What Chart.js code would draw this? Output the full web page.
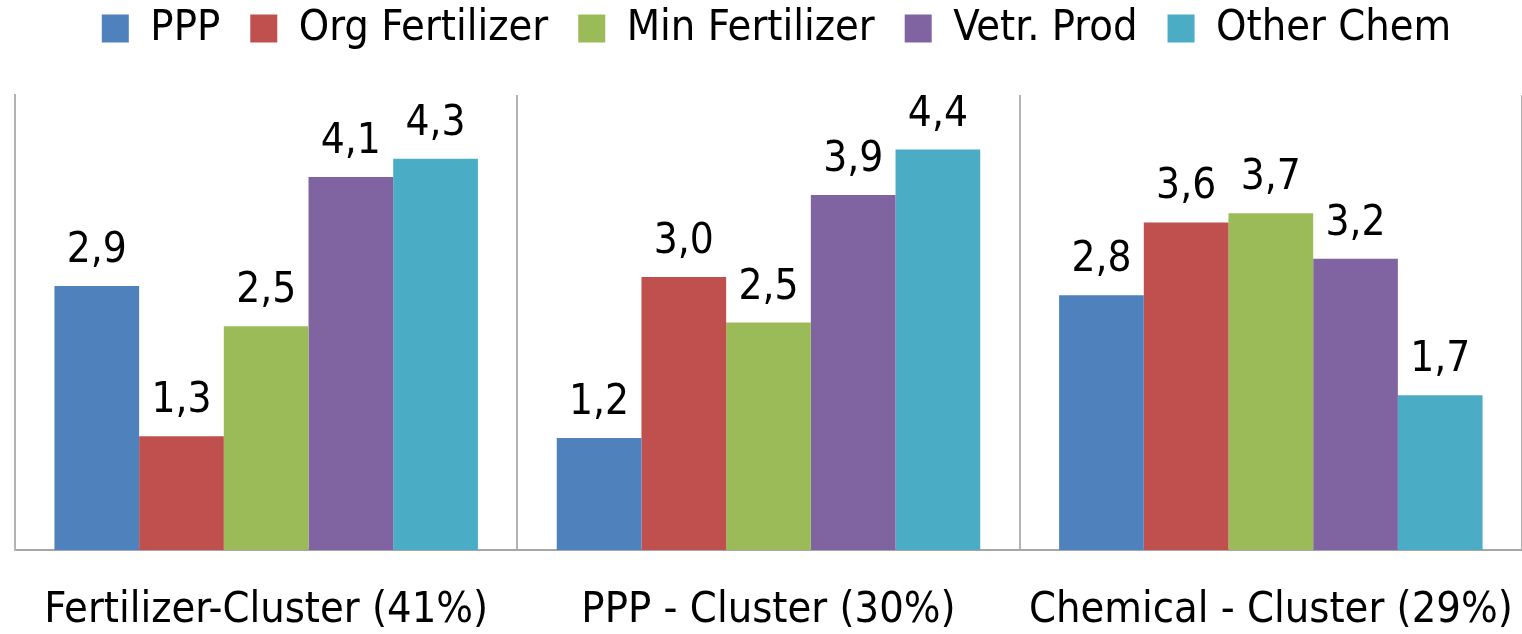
<!DOCTYPE html>
<html>
<head>
<meta charset="utf-8">
<script src="https://cdn.jsdelivr.net/npm/chart.js@4"></script>
<style>
  html, body { margin: 0; padding: 0; background: #fff; }
  #wrap { width: 1522px; height: 634px; }
</style>
</head>
<body>
<div id="wrap"><canvas id="chart"></canvas></div>
<script>
// categories (x axis)
let clusters = ["Fertilizer-Cluster (41%)", "PPP - Cluster (30%)", "Chemical - Cluster (29%)"]

// series values, one per cluster
let ppp = [2.9, 1.23, 2.8]
let orgFert = [1.25, 3.0, 3.6]
let minFert = [2.46, 2.5, 3.7]
let vetrProd = [4.1, 3.9, 3.2]
let otherChem = [4.3, 4.4, 1.7]

let FONT = "'Liberation Sans Narrow', 'DejaVu Sans Condensed', 'Open Sans', sans-serif"

//draws the value above every bar, comma as decimal mark
const valueLabels = {
	id: 'valueLabels',
	afterDatasetsDraw(chart) {
		const ctx = chart.ctx
		ctx.save()
		ctx.fillStyle = '#000'
		ctx.font = '42px ' + FONT
		ctx.textAlign = 'center'
		ctx.textBaseline = 'alphabetic'
		chart.data.datasets.forEach((ds, i) => {
			chart.getDatasetMeta(i).data.forEach((bar, j) => {
				let txt = ds.data[j].toFixed(1).replace('.', ',')
				ctx.fillText(txt, bar.x, bar.y - 24)
			})
		})
		ctx.restore()
	}
}

//extra room under the legend, and nudge it a little to the right
const legendMargin = {
	id: 'legendMargin',
	beforeInit(chart) {
		const fit = chart.legend.fit
		chart.legend.fit = function () {
			fit.bind(chart.legend)()
			this.height = 118
		}
	},
	afterLayout(chart) {
		chart.legend.left += 12
		chart.legend.right += 12
	}
}

new Chart("chart", {
	type: "bar",
	data: {
		labels: clusters,
		datasets: [
			{ label: "PPP", data: ppp, backgroundColor: '#4F81BD' },
			{ label: "Org Fertilizer", data: orgFert, backgroundColor: '#C0504D' },
			{ label: "Min Fertilizer", data: minFert, backgroundColor: '#9BBB59' },
			{ label: "Vetr. Prod", data: vetrProd, backgroundColor: '#8064A2' },
			{ label: "Other Chem", data: otherChem, backgroundColor: '#4BACC6' }
		]
	},
	options: {
		responsive: true,
		maintainAspectRatio: false,
		animation: false,
		datasets: {
			bar: { categoryPercentage: 0.843, barPercentage: 1.0 }
		},
		layout: { padding: { left: 7, right: 0, top: -23, bottom: 0 } },
		plugins: {
			legend: {
				display: true,
				position: 'top',
				labels: {
					boxWidth: 27,
					boxHeight: 28,
					padding: 30,
					color: '#000',
					font: { size: 43, family: FONT }
				}
			},
			tooltip: { enabled: false }
		},
		scales: {
			x: {
				grid: { display: true, offset: true, color: '#b3b3b3', lineWidth: 2, drawTicks: false },
				border: { display: true, color: '#a6a6a6', width: 2 },
				ticks: { color: '#000', padding: 35, maxRotation: 0, autoSkip: false, font: { size: 43, family: FONT } },
				afterFit(scale) {
					scale.height = 84
					scale.paddingLeft = 0
					scale.paddingRight = 0
				}
			},
			y: {
				min: 0,
				max: 5,
				grid: { display: false },
				border: { display: true, color: '#b3b3b3', width: 2 },
				ticks: { display: false }
			}
		}
	},
	plugins: [valueLabels, legendMargin]
});
</script>
</body>
</html>
